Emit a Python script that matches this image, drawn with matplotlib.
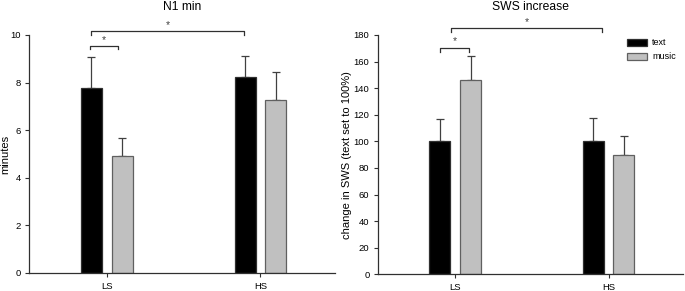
import numpy as np
import matplotlib
matplotlib.use("Agg")
import matplotlib.pyplot as plt

plt.rcParams['font.family'] = ['Liberation Sans', 'DejaVu Sans']

groups = ['LS', 'HS']
conditions = ['text', 'music']

# N1 min (minutes)
n1_text = [7.76, 8.22]
n1_text_err = [1.30, 0.91]
n1_music = [4.93, 7.27]
n1_music_err = [0.73, 1.17]

# SWS increase (text set to 100%)
sws_text = [100, 100]
sws_text_err = [16.8, 17.8]
sws_music = [146, 90]
sws_music_err = [18.0, 14.3]

bar_colors = ['black', '#c0c0c0']
edge_colors = ['#303030', '#606060']
axis_col = '#303030'


def draw_panel(ax, text_vals, text_err, music_vals, music_err, ylim, yticks):
    x = np.arange(len(groups))
    w = 0.137
    off = 0.1
    for vals, err, sign, fc, ec, lab in [
        (text_vals, text_err, -1, bar_colors[0], edge_colors[0], conditions[0]),
        (music_vals, music_err, 1, bar_colors[1], edge_colors[1], conditions[1]),
    ]:
        ax.bar(x + sign * off, vals, w, color=fc, edgecolor=ec, linewidth=0.9,
               label=lab, zorder=2)
        ax.errorbar(x + sign * off, vals, yerr=[np.zeros(len(err)), err],
                    fmt='none', ecolor='#404040', elinewidth=0.9, capsize=3,
                    capthick=0.9, zorder=1)
    ax.set_xlim(-0.506, 1.485)
    ax.set_ylim(*ylim)
    ax.set_yticks(yticks)
    ax.set_xticks(x)
    ax.set_xticklabels(groups)
    for s in ['top', 'right']:
        ax.spines[s].set_visible(False)
    for s in ['left', 'bottom']:
        ax.spines[s].set_color(axis_col)
        ax.spines[s].set_linewidth(0.9)
    ax.tick_params(axis='both', direction='out', length=3, width=0.8,
                   color=axis_col, labelsize=6.8, pad=3)
    ax.tick_params(axis='x', pad=3.5)


def bracket(ax, x1, x2, y, drop):
    ax.plot([x1, x1, x2, x2], [y - drop, y, y, y - drop], color='#303030',
            lw=0.9, clip_on=False)
    ax.text((x1 + x2) / 2, y + drop * 0.3, '*', ha='center', va='bottom',
            fontsize=7.5, color='#404040', clip_on=False)


fig = plt.figure(figsize=(6.85, 2.91), dpi=100)
ax1 = fig.add_axes([0.0423, 0.0619, 0.4467, 0.818])
ax2 = fig.add_axes([0.5514, 0.0574, 0.4456, 0.8226])

draw_panel(ax1, n1_text, n1_text_err, n1_music, n1_music_err, (0, 10),
           [0, 2, 4, 6, 8, 10])
ax1.set_ylabel('minutes', fontsize=8)
ax1.yaxis.set_label_coords(-0.061, 0.5)
ax1.set_title('N1 min', fontsize=8.75, pad=18)
bracket(ax1, -0.11, 0.075, 9.55, 0.15)
bracket(ax1, -0.10, 0.89, 10.16, 0.16)

draw_panel(ax2, sws_text, sws_text_err, sws_music, sws_music_err, (0, 180),
           [0, 20, 40, 60, 80, 100, 120, 140, 160, 180])
ax2.set_ylabel('change in SWS (text set to 100%)', fontsize=8)
ax2.yaxis.set_label_coords(-0.084, 0.5)
ax2.set_title('SWS increase', fontsize=8.75, pad=18)
bracket(ax2, -0.10, 0.09, 170.4, 3)
bracket(ax2, -0.03, 0.96, 185.2, 3)

ax2.legend(loc='upper left', bbox_to_anchor=(0.915, 0.868),
           bbox_transform=fig.transFigure, frameon=False, fontsize=6.5,
           handlelength=2.2, handleheight=0.9, handletextpad=0.6,
           labelspacing=0.55, borderpad=0, borderaxespad=0)

fig.savefig('out.png', dpi=100)
